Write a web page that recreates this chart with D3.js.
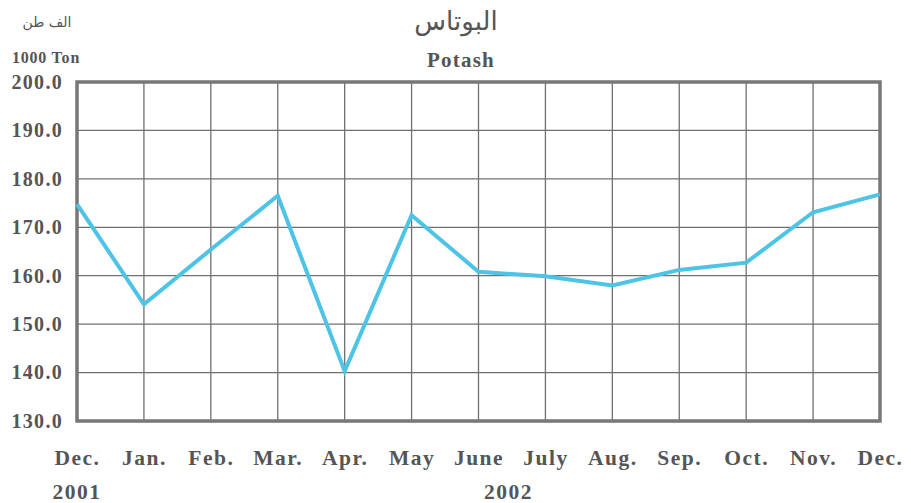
<!DOCTYPE html>
<html>
<head>
<meta charset="utf-8">
<script src="https://cdn.jsdelivr.net/npm/d3@7"></script>
<style>
  body { margin: 0; background: #fff; }
  text { font-family: "Liberation Serif", "Times New Roman", serif; font-weight: bold; fill: #555; }
</style>
</head>
<body>
<svg width="911" height="503"></svg>
<script>
// monthly potash production, 1000 ton
const months = ["Dec.", "Jan.", "Feb.", "Mar.", "Apr.", "May", "June", "July", "Aug.", "Sep.", "Oct.", "Nov.", "Dec."];
const values = [174.8, 154.1, 165.4, 176.5, 140.3, 172.5, 160.8, 159.9, 158.0, 161.2, 162.7, 173.1, 176.8];
const yTicks = [130, 140, 150, 160, 170, 180, 190, 200];
const years = [{label: "2001", at: 0}, {label: "2002", at: 6.45}];

var svg = d3.select("svg"),
  width = +svg.attr("width"),
  height = +svg.attr("height");

var margin = {left: 77, right: 31, top: 82, bottom: 82};

var x = d3.scaleLinear()
  .domain([0, months.length - 1])
  .range([margin.left, width - margin.right]);

var y = d3.scaleLinear()
  .domain([130, 200])
  .range([height - margin.bottom, margin.top]);

// grid
var grid = svg.append("g").attr("class", "grid");

grid.selectAll("line.h")
  .data(yTicks)
  .enter().append("line")
  .attr("class", "h")
  .attr("x1", x(0)).attr("x2", x(months.length - 1))
  .attr("y1", d => y(d)).attr("y2", d => y(d))
  .attr("stroke", "#707070")
  .attr("stroke-width", 1.3);

grid.selectAll("line.v")
  .data(d3.range(months.length))
  .enter().append("line")
  .attr("class", "v")
  .attr("x1", d => x(d)).attr("x2", d => x(d))
  .attr("y1", y(130)).attr("y2", y(200))
  .attr("stroke", "#707070")
  .attr("stroke-width", 1.3);

// frame
svg.append("rect")
  .attr("x", x(0)).attr("y", y(200))
  .attr("width", x(months.length - 1) - x(0))
  .attr("height", y(130) - y(200))
  .attr("fill", "none")
  .attr("stroke", "#777")
  .attr("stroke-width", 3.5);

// y axis labels
var yAxis = d3.axisLeft(y)
  .tickValues(yTicks)
  .tickFormat(d3.format(".1f"))
  .tickSize(0)
  .tickPadding(14);

svg.append("g")
  .attr("transform", "translate(" + x(0) + ",0)")
  .call(yAxis)
  .call(g => g.select(".domain").remove())
  .selectAll("text")
  .style("font-size", "20px")
  .style("letter-spacing", "1.3px")
  .style("font-family", '"Liberation Serif", serif')
  .attr("fill", "#555");

// x axis labels
var xAxis = d3.axisBottom(x)
  .tickValues(d3.range(months.length))
  .tickFormat(i => months[i])
  .tickSize(0)
  .tickPadding(29);

svg.append("g")
  .attr("transform", "translate(0," + y(130) + ")")
  .call(xAxis)
  .call(g => g.select(".domain").remove())
  .selectAll("text")
  .style("font-size", "21.5px")
  .style("letter-spacing", "1.5px")
  .style("font-family", '"Liberation Serif", serif')
  .attr("fill", "#555");

svg.selectAll("text.year")
  .data(years)
  .enter().append("text")
  .attr("class", "year")
  .attr("x", d => x(d.at))
  .attr("y", 499)
  .attr("text-anchor", "middle")
  .style("font-size", "21.5px")
  .style("letter-spacing", "1.5px")
  .text(d => d.label);

// the line
var line = d3.line()
  .x((d, i) => x(i))
  .y(d => y(d));

svg.append("path")
  .datum(values)
  .attr("d", line)
  .attr("fill", "none")
  .attr("stroke", "#4dc3e6")
  .attr("stroke-width", 4)
  .attr("stroke-linejoin", "miter");

// titles
svg.append("text")
  .attr("x", 456).attr("y", 30)
  .attr("text-anchor", "middle")
  .style("font-family", '"DejaVu Sans", "Noto Sans", sans-serif')
  .style("font-weight", "normal")
  .style("font-size", "26px")
  .attr("direction", "rtl")
  .text("البوتاس");

svg.append("text")
  .attr("x", 461).attr("y", 67)
  .attr("text-anchor", "middle")
  .style("font-size", "21px")
  .style("letter-spacing", "1.2px")
  .text("Potash");

svg.append("text")
  .attr("x", 47).attr("y", 27)
  .attr("text-anchor", "middle")
  .style("font-family", '"DejaVu Sans", "Noto Sans", sans-serif')
  .style("font-weight", "normal")
  .style("font-size", "14px")
  .attr("direction", "rtl")
  .text("الف طن");

svg.append("text")
  .attr("x", 46).attr("y", 63)
  .attr("text-anchor", "middle")
  .style("font-size", "16px")
  .style("letter-spacing", "0.8px")
  .text("1000 Ton");
</script>
</body>
</html>
